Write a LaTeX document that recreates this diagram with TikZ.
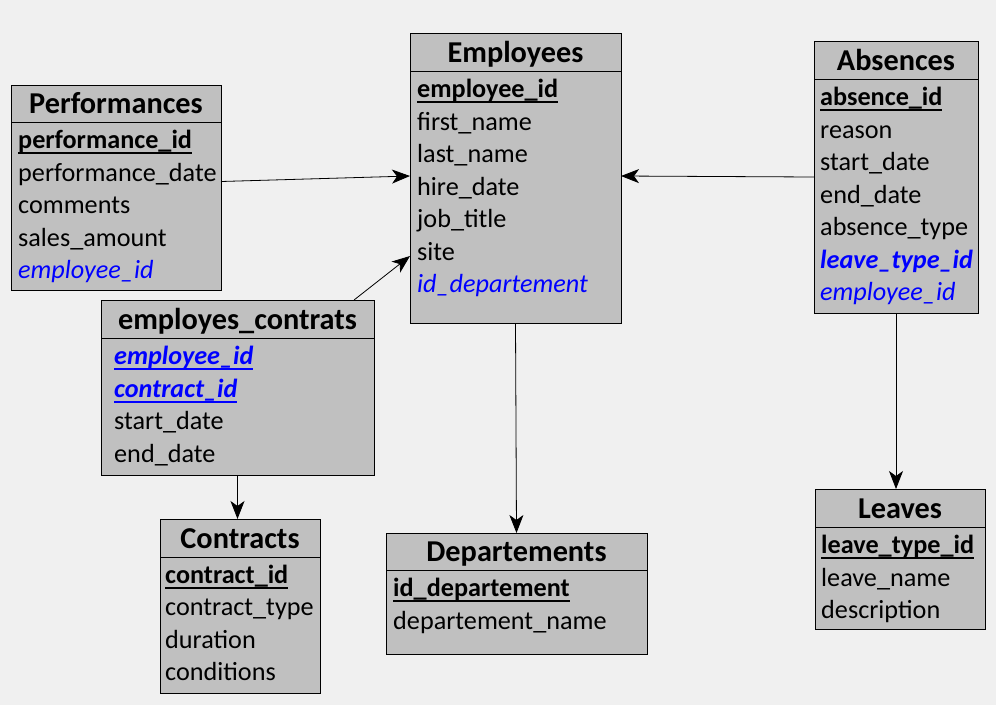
\documentclass[tikz,border=0pt]{standalone}
\usepackage{fontspec}
\setmainfont{Carlito}
\usetikzlibrary{arrows.meta}

\definecolor{bggray}{HTML}{F0F0F0}
\definecolor{tblgray}{HTML}{C0C0C0}
\definecolor{fkblue}{HTML}{0000FF}

\newcommand{\pkline}[1]{\setbox0=\hbox{#1}\rlap{\rule[-5.5pt]{\wd0}{1.8pt}}\box0}
\newcommand{\pk}[1]{\pkline{\textbf{#1}}}
\newcommand{\fk}[1]{\textcolor{fkblue}{\textit{#1}}}
\newcommand{\fkb}[1]{\textcolor{fkblue}{\textbf{\textit{#1}}}}
\newcommand{\pfk}[1]{\textcolor{fkblue}{\pkline{\textbf{\textit{#1}}}}}

\begin{document}
\begin{tikzpicture}[x=1pt, y=-1pt,
  tbl/.style={draw=black, line width=1pt, fill=tblgray, inner sep=0pt, outer sep=0pt},
  tbltitle/.style={anchor=base, inner sep=0pt, font=\fontsize{30.3}{34}\selectfont\bfseries},
  fieldtxt/.style={anchor=base west, inner sep=0pt, font=\fontsize{26.2}{30}\selectfont},
  rel/.style={line width=0.8pt, -{Stealth[length=18pt, width=14pt, inset=5pt]}}]
\fill[bggray] (0,0) rectangle (996,705);
\useasboundingbox (0,0) rectangle (996,705);

% Performances
\node[tbl, minimum width=210pt, minimum height=205pt] (perf) at (116,187.5) {};
\node[tbltitle] (perf-t) at (116,113) {Performances};
\draw[line width=1pt] (11,122) -- (221,122);
\foreach \f [count=\i from 0] in {{\pk{performance\_id}}, performance\_date, comments, sales\_amount, {\fk{employee\_id}}}
  \node[fieldtxt] (perf-\i) at (18,{148.5+32.5*\i}) {\f};

% Employees
\node[tbl, minimum width=211pt, minimum height=290pt] (emp) at (515.5,178) {};
\node[tbltitle] (emp-t) at (515.5,62) {Employees};
\draw[line width=1pt] (410,71) -- (621,71);
\foreach \f [count=\i from 0] in {{\pk{employee\_id}}, first\_name, last\_name, hire\_date, job\_title, site, {\fk{id\_departement}}}
  \node[fieldtxt] (emp-\i) at (417,{97.5+32.5*\i}) {\f};

% Absences
\node[tbl, minimum width=164pt, minimum height=272pt] (abs) at (896,177) {};
\node[tbltitle] (abs-t) at (896,70) {Absences};
\draw[line width=1pt] (814,79) -- (978,79);
\foreach \f [count=\i from 0] in {{\pk{absence\_id}}, reason, start\_date, end\_date, absence\_type, {\fkb{leave\_type\_id}}, {\fk{employee\_id}}}
  \node[fieldtxt] (abs-\i) at (820,{105.5+32.5*\i}) {\f};

% employes_contrats
\node[tbl, minimum width=273pt, minimum height=175pt] (ec) at (237.5,387.5) {};
\node[tbltitle] (ec-t) at (237.5,329) {employes\_contrats};
\draw[line width=1pt] (101,338) -- (374,338);
\foreach \f [count=\i from 0] in {{\pfk{employee\_id}}, {\pfk{contract\_id}}, start\_date, end\_date}
  \node[fieldtxt] (ec-\i) at (114,{364.5+32.5*\i}) {\f};

% Contracts
\node[tbl, minimum width=160pt, minimum height=174pt] (con) at (240,606) {};
\node[tbltitle] (con-t) at (240,548) {Contracts};
\draw[line width=1pt] (160,557) -- (320,557);
\foreach \f [count=\i from 0] in {{\pk{contract\_id}}, contract\_type, duration, conditions}
  \node[fieldtxt] (con-\i) at (165,{583.5+32.3*\i}) {\f};

% Departements
\node[tbl, minimum width=261pt, minimum height=121pt] (dep) at (516.5,593.5) {};
\node[tbltitle] (dep-t) at (516.5,561) {Departements};
\draw[line width=1pt] (386,570) -- (647,570);
\foreach \f [count=\i from 0] in {{\pk{id\_departement}}, departement\_name}
  \node[fieldtxt] (dep-\i) at (393,{596.5+32.5*\i}) {\f};

% Leaves
\node[tbl, minimum width=170pt, minimum height=140pt] (lea) at (900,559) {};
\node[tbltitle] (lea-t) at (900,518) {Leaves};
\draw[line width=1pt] (815,527) -- (985,527);
\foreach \f [count=\i from 0] in {{\pk{leave\_type\_id}}, leave\_name, description}
  \node[fieldtxt] (lea-\i) at (821,{553.5+32.5*\i}) {\f};

% relations
\draw[rel] ([yshift=6pt]perf.east) -- ([yshift=2pt]emp.west);
\draw[rel] (abs.west) -- ([yshift=2pt]emp.east);
\draw[rel] ([xshift=-20pt]ec.north east) -- ([yshift=-78pt]emp.west);
\draw[rel] (emp.south) -- (dep.north);
\draw[rel] (ec.south) -- (ec.south |- con.north);
\draw[rel] (abs.south) -- (abs.south |- lea.north);
\end{tikzpicture}
\end{document}
